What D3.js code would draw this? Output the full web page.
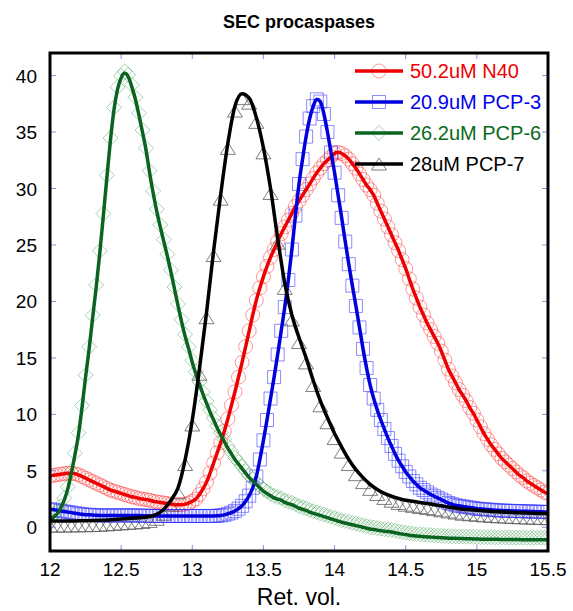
<!DOCTYPE html>
<html>
<head>
    <title>SEC procaspases</title>
    <script src="https://d3js.org/d3.v7.min.js"></script>
    <style type="text/css">
        html, body { margin: 0; background: #fff; }
        svg { display: block; font-family: "Liberation Sans", Arial, sans-serif; }
    </style>
</head>
<body>
<div id="chart"></div>
<script type="text/javascript">
    // retention volume grids (ml)
    var volFine = d3.range(0, 141).map(function(i) { return 12 + i * 0.025; });
    var volCoarse = d3.range(0, 71).map(function(i) { return 12 + i * 0.05; });

    // 50.2uM N40
    var n40 = [
        4.55,4.6,4.65,4.7,4.75,4.78,4.78,4.75,4.65,4.5,
        4.35,4.2,4.05,3.9,3.75,3.6,3.45,3.3,3.2,3.1,
        3.0,2.9,2.8,2.7,2.65,2.55,2.5,2.45,2.4,2.3,
        2.25,2.2,2.15,2.1,2.05,2.0,2.0,2.0,2.05,2.15,
        2.3,2.5,2.9,3.4,4.0,4.8,5.7,6.6,7.5,8.5,
        9.6,10.8,12.0,13.3,14.6,16.0,17.4,18.8,20.1,21.2,
        22.2,23.1,23.9,24.6,25.3,26.0,26.6,27.2,27.8,28.4,
        28.9,29.4,29.9,30.4,30.9,31.4,31.8,32.2,32.5,32.8,
        33.1,33.2,33.1,32.9,32.6,32.2,31.8,31.3,30.8,30.3,
        29.9,29.4,28.7,28.0,27.3,26.6,25.9,25.2,24.5,23.7,
        22.9,22.0,21.1,20.3,19.5,18.8,18.1,17.5,16.9,16.3,
        15.6,14.8,14.0,13.4,12.8,12.2,11.7,11.2,10.6,10.1,
        9.5,8.9,8.3,7.8,7.3,6.9,6.5,6.1,5.8,5.5,
        5.2,4.9,4.6,4.4,4.1,3.9,3.7,3.5,3.3,3.1,
        3.0
    ];
    // 20.9uM PCP-3
    var pcp3 = [
        1.6,1.55,1.5,1.45,1.4,1.35,1.3,1.25,1.2,1.15,
        1.12,1.1,1.08,1.06,1.05,1.05,1.05,1.05,1.05,1.05,
        1.05,1.05,1.05,1.05,1.05,1.04,1.03,1.02,1.01,1.0,
        1.0,1.0,1.0,1.0,1.0,1.0,1.0,1.0,1.0,1.0,
        1.0,1.0,1.0,1.0,1.0,1.0,1.0,1.02,1.05,1.1,
        1.2,1.3,1.45,1.65,1.9,2.3,2.8,3.5,4.5,6.0,
        7.7,9.5,11.4,13.3,15.3,17.4,19.5,21.9,24.6,27.6,
        30.4,32.6,34.6,36.2,37.3,37.9,37.7,36.6,35.0,33.2,
        31.4,29.4,27.4,25.3,23.3,21.4,19.6,17.7,15.8,14.1,
        12.6,11.4,10.4,9.5,8.7,7.9,7.2,6.5,5.9,5.4,
        4.9,4.5,4.1,3.8,3.5,3.3,3.1,2.9,2.75,2.6,
        2.45,2.3,2.15,2.05,1.95,1.9,1.85,1.8,1.75,1.7,
        1.65,1.62,1.6,1.57,1.55,1.52,1.5,1.48,1.47,1.46,
        1.45,1.44,1.43,1.42,1.41,1.4,1.39,1.38,1.37,1.36,
        1.35
    ];
    // 26.2uM PCP-6
    var pcp6 = [
        0.6,0.9,1.2,1.7,2.4,3.4,4.8,6.4,8.2,10.6,
        13.3,15.8,18.6,21.3,24.3,27.6,31.0,34.3,37.0,38.8,
        39.8,40.2,39.9,39.0,37.9,36.5,35.0,33.4,31.4,29.6,
        28.0,26.6,25.3,24.0,22.6,21.1,19.6,18.2,16.9,15.8,
        14.6,13.6,12.7,11.8,11.0,10.2,9.5,8.8,8.2,7.6,
        7.0,6.5,6.0,5.6,5.2,4.8,4.4,4.1,3.8,3.5,
        3.2,3.0,2.8,2.6,2.5,2.4,2.2,2.1,2.0,1.85,
        1.7,1.6,1.5,1.35,1.25,1.15,1.05,0.95,0.85,0.75,
        0.65,0.55,0.45,0.38,0.3,0.22,0.15,0.08,0.0,-0.08,
        -0.15,-0.2,-0.25,-0.3,-0.35,-0.38,-0.42,-0.48,-0.55,-0.6,
        -0.65,-0.7,-0.74,-0.78,-0.8,-0.83,-0.85,-0.87,-0.89,-0.91,
        -0.93,-0.95,-0.96,-0.97,-0.98,-0.99,-1.0,-1.01,-1.02,-1.03,
        -1.04,-1.05,-1.05,-1.06,-1.06,-1.07,-1.07,-1.08,-1.08,-1.08,
        -1.09,-1.09,-1.09,-1.1,-1.1,-1.1,-1.1,-1.1,-1.1,-1.1,
        -1.1
    ];
    // 28uM PCP-7 (coarser sampling)
    var pcp7 = [
        0.55,0.55,0.55,0.56,0.57,0.58,0.6,0.62,0.65,0.7,
        0.74,0.78,0.82,0.87,0.95,1.15,1.6,2.4,3.5,6.0,
        9.5,14.0,19.0,24.5,29.5,34.0,37.3,38.4,38.0,36.3,
        33.6,30.0,25.6,21.6,18.8,16.8,15.0,13.0,11.2,9.7,
        8.3,7.1,6.0,5.1,4.4,3.8,3.35,3.0,2.75,2.55,
        2.4,2.3,2.2,2.1,2.0,1.9,1.8,1.7,1.6,1.55,
        1.5,1.45,1.4,1.37,1.34,1.31,1.28,1.26,1.24,1.22,
        1.2
    ];

    var labels = ["50.2uM N40", "20.9uM PCP-3", "26.2uM PCP-6", "28uM PCP-7"];
    var xTicks = [12, 12.5, 13, 13.5, 14, 14.5, 15, 15.5];
    var yTicks = [0, 5, 10, 15, 20, 25, 30, 35, 40];

    var series = [
        {name: labels[0], x: volFine, y: n40, line: "#ee0000", text: "#ee0000", mark: "circle", mstroke: "#ff2a2a", mop: 0.55},
        {name: labels[1], x: volFine, y: pcp3, line: "#0000dd", text: "#0000ee", mark: "square", mstroke: "#2a2aff", mop: 0.6},
        {name: labels[2], x: volFine, y: pcp6, line: "#0a6420", text: "#0a6a20", mark: "diamond", mstroke: "#3a9a4a", mop: 0.5},
        {name: labels[3], x: volCoarse, y: pcp7, line: "#000000", text: "#000000", mark: "triangle", mstroke: "#555555", mop: 0.85}
    ];

    var W = 573, H = 611;
    var plotL = 50, plotR = 548, plotT = 53, plotB = 551;

    var x = d3.scaleLinear().domain([12, 15.5]).range([plotL, plotR]);
    var y = d3.scaleLinear().domain([-2.1, 42]).range([plotB, plotT]);

    var svg = d3.select("#chart").append("svg")
        .attr("width", W).attr("height", H);

    // marker shapes
    function markerPath(kind) {
        if (kind == "circle") return d3.symbol().type(d3.symbolCircle).size(Math.PI * 7 * 7)();
        if (kind == "square") return "M-6.5,-6.5H6.5V6.5H-6.5Z";
        if (kind == "diamond") return "M0,-7.5L7.5,0L0,7.5L-7.5,0Z";
        return "M0,-1L7.5,11L-7.5,11Z"; // triangle, hangs below the point
    }
    function markerDy(kind) {
        if (kind == "diamond") return -2;
        return 0;
    }

    svg.append("clipPath").attr("id", "plotclip")
        .append("rect").attr("x", plotL).attr("y", plotT)
        .attr("width", plotR - plotL).attr("height", plotB - plotT);

    var plot = svg.append("g").attr("clip-path", "url(#plotclip)");

    // markers first
    series.forEach(function(s) {
        var pts = s.x.map(function(v, i) { return [v, s.y[i]]; });
        var d = markerPath(s.mark);
        plot.append("g").selectAll("path")
            .data(pts).enter().append("path")
            .attr("d", d)
            .attr("transform", function(p) { return "translate(" + x(p[0]) + "," + (y(p[1]) + markerDy(s.mark)) + ")"; })
            .attr("fill", "none")
            .attr("stroke", s.mstroke)
            .attr("stroke-opacity", s.mop)
            .attr("stroke-width", 0.9);
    });

    // then lines
    var line = d3.line().curve(d3.curveMonotoneX)
        .x(function(p) { return x(p[0]); })
        .y(function(p) { return y(p[1]); });

    series.forEach(function(s) {
        var pts = s.x.map(function(v, i) { return [v, s.y[i]]; });
        plot.append("path")
            .attr("d", line(pts))
            .attr("fill", "none")
            .attr("stroke", s.line)
            .attr("stroke-width", 3.5)
            .attr("stroke-linejoin", "round");
    });

    // inner ticks on all four sides
    var tickCol = "#8c8cf0";
    var tk = svg.append("g").attr("stroke", tickCol).attr("stroke-width", 1);
    xTicks.forEach(function(t) {
        tk.append("line").attr("x1", x(t)).attr("x2", x(t)).attr("y1", plotB).attr("y2", plotB - 6);
        tk.append("line").attr("x1", x(t)).attr("x2", x(t)).attr("y1", plotT).attr("y2", plotT + 6);
    });
    yTicks.forEach(function(t) {
        tk.append("line").attr("x1", plotL).attr("x2", plotL + 6).attr("y1", y(t)).attr("y2", y(t));
        tk.append("line").attr("x1", plotR).attr("x2", plotR - 6).attr("y1", y(t)).attr("y2", y(t));
    });

    // frame
    svg.append("rect").attr("x", plotL).attr("y", plotT)
        .attr("width", plotR - plotL).attr("height", plotB - plotT)
        .attr("fill", "none").attr("stroke", "#000").attr("stroke-width", 3);

    // tick labels
    svg.append("g").selectAll("text").data(xTicks).enter().append("text")
        .attr("x", function(t) { return x(t); })
        .attr("y", 576)
        .attr("text-anchor", "middle")
        .attr("font-size", 19)
        .text(function(t) { return d3.format("")(t); });

    svg.append("g").selectAll("text").data(yTicks).enter().append("text")
        .attr("x", 37)
        .attr("y", function(t) { return y(t) + 7; })
        .attr("text-anchor", "end")
        .attr("font-size", 19)
        .text(function(t) { return t; });

    // title and axis label
    svg.append("text").attr("x", 299).attr("y", 28)
        .attr("text-anchor", "middle").attr("font-size", 18).attr("font-weight", "bold")
        .text("SEC procaspases");

    svg.append("text").attr("x", 299).attr("y", 605)
        .attr("text-anchor", "middle").attr("font-size", 23)
        .text("Ret. vol.");

    // legend
    var lg = svg.append("g");
    series.forEach(function(s, i) {
        var ly = 71 + i * 31;
        lg.append("path").attr("d", markerPath(s.mark))
            .attr("transform", "translate(379," + (ly + (s.mark == "triangle" ? -5 : 0)) + ")")
            .attr("fill", "none").attr("stroke", s.mstroke)
            .attr("stroke-opacity", s.mop).attr("stroke-width", 0.9);
        lg.append("line").attr("x1", 355).attr("x2", 403).attr("y1", ly).attr("y2", ly)
            .attr("stroke", s.line).attr("stroke-width", 3.5);
        lg.append("text").attr("x", 410).attr("y", ly + 7)
            .attr("font-size", 20).attr("fill", s.text)
            .text(s.name);
    });
</script>
</body>
</html>
